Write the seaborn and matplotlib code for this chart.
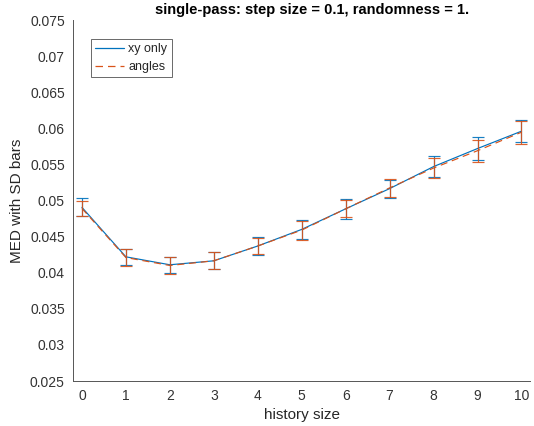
import numpy as np
import pandas as pd
import matplotlib
matplotlib.use("Agg")
import matplotlib.pyplot as plt
import seaborn as sns
from matplotlib.lines import Line2D

history = [0, 1, 2, 3, 4, 5, 6, 7, 8, 9, 10]
xy_mean = [0.04905, 0.0422, 0.0411, 0.04165, 0.0437, 0.0460, 0.04885, 0.05165, 0.0547, 0.0572, 0.0596]
xy_sd = [0.00125, 0.0011, 0.0011, 0.0012, 0.00118, 0.0013, 0.00137, 0.00125, 0.0014, 0.0016, 0.0015]
ang_mean = [0.0489, 0.0421, 0.0410, 0.04165, 0.0437, 0.0459, 0.04885, 0.05175, 0.0545, 0.0569, 0.05946]
ang_sd = [0.0010, 0.0012, 0.00115, 0.0012, 0.00115, 0.0013, 0.0012, 0.00125, 0.00145, 0.0015, 0.0016]
series = ["xy only", "angles"]
title = "single-pass: step size = 0.1, randomness = 1."

sns.set_style("white")
plt.rcParams['font.family'] = ['Liberation Sans', 'DejaVu Sans']

df = pd.DataFrame({
    "history size": history * 2,
    "MED": xy_mean + ang_mean,
    "sd": xy_sd + ang_sd,
    "series": [series[0]] * len(history) + [series[1]] * len(history),
})

blue = "#0072BD"
orange = "#D95319"
pal = {series[0]: blue, series[1]: orange}

fig = plt.figure(figsize=(5.34, 4.26), dpi=100)
ax = fig.add_axes([0.137, 0.1056, 0.856, 0.8474])

sns.lineplot(data=df, x="history size", y="MED", hue="series", style="series",
             palette=pal, dashes={series[0]: "", series[1]: (6, 4)},
             linewidth=0.85, ax=ax, legend=False)
for s in series:
    sub = df[df["series"] == s]
    ax.errorbar(sub["history size"], sub["MED"], yerr=sub["sd"], fmt="none",
                ecolor=pal[s], elinewidth=0.85, capsize=4, capthick=0.85, alpha=0.9)

ax.set_xlim(-0.2, 10.2)
ax.set_ylim(0.025, 0.075)
ax.set_xticks(history)
yt = np.arange(0.025, 0.0751, 0.005)
ax.set_yticks(yt)
ax.set_yticklabels([("%.3f" % v).rstrip("0") for v in yt])
ax.tick_params(direction="in", length=3, colors="#333333", labelsize=10, pad=6)
ax.tick_params(axis="x", pad=6)
for sp in ["top", "right"]:
    ax.spines[sp].set_visible(False)
for sp in ["left", "bottom"]:
    ax.spines[sp].set_color("#555555")
    ax.spines[sp].set_linewidth(0.7)

ax.set_xlabel("history size", fontsize=11, color="#262626", labelpad=3)
ax.set_ylabel("MED with SD bars", fontsize=11, color="#262626", labelpad=4)
ax.set_title(title, fontsize=10.5, fontweight="bold", color="black", pad=4, x=0.523)

handles = [Line2D([], [], color=blue, lw=0.9),
           Line2D([], [], color=orange, lw=0.9, dashes=(6, 4))]
leg = ax.legend(handles, series, loc="upper left", bbox_to_anchor=(0.025, 0.965),
                fontsize=9, frameon=True, fancybox=False, handlelength=2.3,
                borderpad=0.35, labelspacing=0.45, handletextpad=0.35)
leg.get_frame().set_edgecolor("#262626")
leg.get_frame().set_linewidth(0.6)

fig.savefig("out.png", dpi=100)
